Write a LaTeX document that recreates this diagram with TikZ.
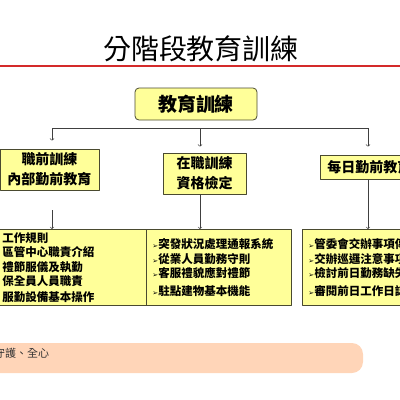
\documentclass[tikz,border=0pt]{standalone}
\usepackage{fontspec}
\setmainfont{Noto Sans CJK TC}
\newfontfamily\symfont{DejaVu Sans}
\definecolor{boxyellow}{HTML}{FFFF99}
\definecolor{boxline}{HTML}{4A4A30}
\definecolor{titlered}{HTML}{D42A2A}
\definecolor{bandpeach}{HTML}{FFD5B8}
\newcommand{\itm}{{\symfont\fontsize{7}{7}\selectfont ➢}}
\begin{document}
\begin{tikzpicture}[x=1pt,y=-1pt,line join=round,>=to]
	\tikzset{
		topbox/.style={draw=boxline,fill=boxyellow,rounded corners=4pt,line width=0.8pt,minimum width=122pt,minimum height=32pt,font=\fontsize{19}{19}\selectfont\bfseries},
		midbox/.style={draw=boxline,fill=boxyellow,line width=0.8pt,align=center,inner sep=0pt,font=\fontsize{14}{20}\selectfont\bfseries},
		listbox/.style={draw=boxline,fill=boxyellow,line width=0.8pt,anchor=north west,align=left,minimum height=76pt,inner xsep=6pt,inner ysep=2pt,font=\fontsize{11.5}{14.5}\selectfont\bfseries},
		link/.style={draw=black!75,line width=0.6pt}
	}
	\useasboundingbox (0,0) rectangle (400,400);
	\clip (0,0) rectangle (400,400);
	% title
	\node (title) at (201,49) {\fontsize{28}{28}\selectfont 分階段教育訓練};
	\draw[titlered,line width=1.3pt] (0,66)--(400,66);
	% top level
	\node[topbox] (edu) at (196,104) {教育訓練};
	\coordinate (barL) at (52,128);
	\coordinate (barM) at (200,128);
	\coordinate (barR) at (368,128);
	\draw[link] (barL)--(barR);
	% second level
	\node[midbox,minimum width=99pt,minimum height=41pt] (pre) at (49.5,169.5) {職前訓練\\內部勤前教育};
	\node[midbox,minimum width=83pt,minimum height=41pt] (onjob) at (204.5,173.5) {在職訓練\\資格檢定};
	\node[midbox,minimum width=98pt,minimum height=24pt,anchor=west] (daily) at (320,167) {每日勤前教育};
	\draw[link,->,shorten >=8pt] (barL)--(barL|-pre.north);
	\draw[link,->,shorten >=6pt] (barM)--(barM|-onjob.north);
	\draw[link,->,shorten >=8pt] (barR)--(barR|-daily.north);
	% third level
	\node[listbox,text width=135pt,inner xsep=10pt] (prelist) at (-8,229) {工作規則\\區管中心職責介紹\\禮節服儀及執勤\\保全員人員職責\\[1pt]服勤設備基本操作};
	\node[listbox,text width=133pt] (onjoblist) at (146,229) {\itm 突發狀況處理通報系統\\\itm 從業人員勤務守則\\\itm 客服禮貌應對禮節\\[3pt]\itm 駐點建物基本機能};
	\node[listbox,text width=133pt] (dailylist) at (302,229) {\itm 管委會交辦事項傳\\\itm 交辦巡邏注意事項\\\itm 檢討前日勤務缺失\\[3pt]\itm 審閱前日工作日誌};
	\coordinate (preout) at (52,210);
	\draw[link,->] (preout)--(prelist.north-|preout);
	\draw[link,->] (onjob.south-|barM)--(onjoblist.north-|barM);
	\draw[link,->] (daily.south-|barR)--(dailylist.north-|barR);
	% band
	\fill[bandpeach,rounded corners=11pt] (-30,343) rectangle (363,373);
	\node[anchor=west,inner sep=0pt,text=black!80,font=\fontsize{11}{11}\selectfont] (motto) at (-6,353) {守護、全心};
\end{tikzpicture}
\end{document}
